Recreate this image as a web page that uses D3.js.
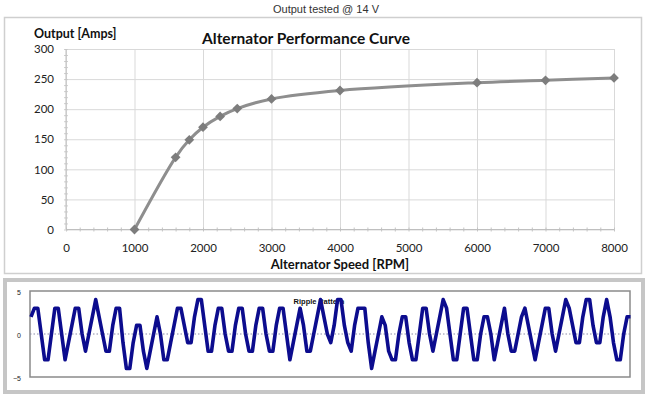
<!DOCTYPE html>
<html>
<head>
<meta charset="utf-8">
<script src="https://cdn.jsdelivr.net/npm/d3@7"></script>
<style>
body{margin:0;background:#fff}
svg{display:block}
</style>
</head>
<body>
<script>
// alternator curve
var rpm = [1000, 1600, 1800, 2000, 2250, 2500, 3000, 4000, 6000, 7000, 8000];
var amps = [0, 120, 149, 170, 188, 201, 217, 231, 244, 248, 252];
var rpmTicks = [0, 1000, 2000, 3000, 4000, 5000, 6000, 7000, 8000];
var ampTicks = [0, 50, 100, 150, 200, 250, 300];

// ripple trace (volts, one value per sample)
var ripple = [
  2, 3, 3, 0, -3, -3, 0, 3, 3, 0, -3, -1, 1, 3, 3, 0, -2, 0, 2, 4,
  2, 0, -2, -2, 1, 3, 3, -1, -4, -4, -1, 1, 1, -2, -4, -2, 0, 2, 0, -3,
  -3, -1, 1, 3, 3, 1, -1, -1, 2, 4, 4, 1, -2, -2, 1, 3, 3, 0, -2, -2,
  1, 3, 3, 0, -2, -2, 1, 3, 3, 0, -2, -2, 1, 3, 3, 0, -3, -1, 1, 3,
  1, -2, -2, 0, 2, 4, 2, 0, -1, 1, 4, 4, 1, -1, -2, 1, 3, 3, 3, -1,
  -4, -2, 0, 2, 1, -2, -3, -3, 0, 2, 2, -1, -3, -3, 0, 3, 3, 0, -2, 0,
  2, 4, 3, 0, -3, -3, 0, 3, 3, 0, -3, -3, 0, 2, 2, 0, -3, -1, 1, 3,
  0, -2, -2, 0, 2, 3, 1, -1, -3, -1, 1, 3, 3, 0, -2, 0, 2, 4, 3, 1,
  -1, -1, 2, 4, 4, 1, -1, -1, 2, 4, 2, -1, -3, -3, 0, 2, 2
];
var rippleTicks = [5, 0, -5];

var W = 649, H = 396;
var svg = d3.select('body').append('svg').attr('width', W).attr('height', H);

svg.append('text')
  .attr('x', 326).attr('y', 12.5)
  .attr('text-anchor', 'middle')
  .style('font', '11px "Liberation Sans", Arial, sans-serif')
  .style('fill', '#333')
  .text('Output tested @ 14 V');

// panel frames
svg.append('rect')
  .attr('x', 4.5).attr('y', 17.5).attr('width', 637).attr('height', 256)
  .style('fill', 'none').style('stroke', '#cfcfcf').style('stroke-width', 1.5);
svg.append('rect')
  .attr('x', 5).attr('y', 280).attr('width', 638).attr('height', 112)
  .style('fill', 'none').style('stroke', '#c6c6c6').style('stroke-width', 4);

// ---- top chart ----
var x = d3.scaleLinear().domain([0, 8000]).range([66, 614]);
var y = d3.scaleLinear().domain([0, 300]).range([229.5, 49]);
var lab = '11.5px Lato, "Open Sans", sans-serif';

var gx = svg.append('g').attr('transform', 'translate(0,229.5)')
  .call(d3.axisBottom(x).tickValues(rpmTicks).tickSize(-(229.5 - 49)).tickPadding(14)
    .tickFormat(d3.format('d')));
gx.select('.domain').remove();
gx.selectAll('line').style('stroke', '#d9d9d9');
gx.selectAll('text').style('font', lab).style('fill', '#222');

var gy = svg.append('g').attr('transform', 'translate(66,0)')
  .call(d3.axisLeft(y).tickValues(ampTicks).tickSize(-(614 - 66)).tickPadding(12));
gy.select('.domain').remove();
gy.selectAll('line').style('stroke', '#d9d9d9');
gy.selectAll('text').style('font', lab).style('fill', '#222');

// minor ticks
var mx = svg.append('g').attr('transform', 'translate(0,231.5)')
  .call(d3.axisBottom(x).ticks(40).tickSize(4).tickFormat(''));
mx.select('.domain').remove();
mx.selectAll('line').attr('y1', -4).attr('y2', 0).style('stroke', '#c4c4c4');
var my = svg.append('g').attr('transform', 'translate(68,0)')
  .call(d3.axisLeft(y).ticks(30).tickSize(4).tickFormat(''));
my.select('.domain').remove();
my.selectAll('line').style('stroke', '#cfcfcf');

// axis lines
svg.append('line').attr('x1', 66).attr('x2', 66).attr('y1', 49).attr('y2', 229.5)
  .style('stroke', '#bfbfbf');
svg.append('line').attr('x1', 66).attr('x2', 614).attr('y1', 229.5).attr('y2', 229.5)
  .style('stroke', '#bfbfbf');

var pts = rpm.map(function(r, i) { return [r, amps[i]]; });
svg.append('path')
  .datum(pts)
  .attr('d', d3.line().x(function(d) { return x(d[0]); }).y(function(d) { return y(d[1]); })
    .curve(d3.curveCatmullRom.alpha(0.5)))
  .style('fill', 'none').style('stroke', '#8e8e8e').style('stroke-width', 3);

svg.selectAll('.mk').data(pts).enter().append('path')
  .attr('class', 'mk')
  .attr('d', d3.symbol().type(d3.symbolSquare).size(48))
  .attr('transform', function(d) { return 'translate(' + x(d[0]) + ',' + y(d[1]) + ') rotate(45)'; })
  .style('fill', '#7d7d7d');

svg.append('text')
  .attr('x', 306).attr('y', 43.5)
  .attr('text-anchor', 'middle')
  .style('font', 'bold 15.5px Lato, sans-serif').style('fill', '#111')
  .text('Alternator Performance Curve');
svg.append('text')
  .attr('x', 34).attr('y', 38)
  .style('font', 'bold 12.5px Lato, sans-serif').style('fill', '#111')
  .text('Output [Amps]');
svg.append('text')
  .attr('x', 340).attr('y', 269)
  .attr('text-anchor', 'middle')
  .style('font', 'bold 13px Lato, sans-serif').style('fill', '#111')
  .text('Alternator Speed [RPM]');

// ---- ripple chart ----
var rx = d3.scaleLinear().domain([0, ripple.length - 1]).range([31, 630.5]);
var ry = d3.scaleLinear().domain([-5, 5]).range([377, 291]);

svg.append('rect')
  .attr('x', 30).attr('y', 291).attr('width', 600).attr('height', 86)
  .style('fill', 'none').style('stroke', '#8a8a8a').style('stroke-width', 1.5);

svg.append('line')
  .attr('x1', 30).attr('x2', 630).attr('y1', ry(0)).attr('y2', ry(0))
  .style('stroke', '#8a8aa8').style('stroke-dasharray', '1.5,2');

var ga = svg.append('g').attr('transform', 'translate(30,0)')
  .call(d3.axisLeft(ry).tickValues(rippleTicks).tickSize(0).tickPadding(9));
ga.select('.domain').remove();
ga.selectAll('text').style('font', '7px "Liberation Sans", Arial, sans-serif').style('fill', '#222')
  .attr('dy', '0.5em');

svg.append('text')
  .attr('x', 319).attr('y', 303.5)
  .attr('text-anchor', 'middle')
  .style('font', 'bold 7.5px "Liberation Sans", Arial, sans-serif').style('fill', '#111')
  .text('Ripple Pattern');

svg.append('path')
  .datum(ripple)
  .attr('d', d3.line().x(function(d, i) { return rx(i); }).y(function(d) { return ry(d); }))
  .style('fill', 'none').style('stroke', '#0c0c8e').style('stroke-width', 3.6)
  .style('stroke-linejoin', 'round');
</script>
</body>
</html>
